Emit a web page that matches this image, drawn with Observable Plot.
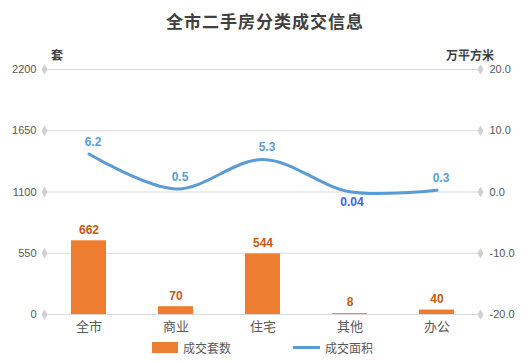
<!DOCTYPE html>
<html><head><meta charset="utf-8">
<script src="https://cdn.jsdelivr.net/npm/d3@7"></script>
<script src="https://cdn.jsdelivr.net/npm/@observablehq/plot@0.6"></script>
<style>
body{margin:0;background:#fff;}
#wrap{position:relative;width:530px;height:361px;overflow:hidden;font-family:"Noto Sans CJK SC",sans-serif;}
#title{position:absolute;top:8px;left:0;width:530px;text-align:center;font-size:17px;font-weight:bold;color:#404040;letter-spacing:1px;}
.unit{position:absolute;top:46px;font-size:12px;font-weight:bold;color:#404040;}
#legend{position:absolute;top:339px;left:0;width:530px;font-size:12px;color:#595959;}
#legend span{position:absolute;display:flex;align-items:center;}
</style></head>
<body><div id="wrap">
<div id="title">全市二手房分类成交信息</div>
<div class="unit" style="left:51px">套</div>
<div class="unit" style="left:446px">万平方米</div>
<div id="legend">
<span style="left:152px"><i style="display:inline-block;width:26px;height:11px;background:#ed7d31;margin-right:5px"></i>成交套数</span>
<span style="left:293px"><i style="display:inline-block;width:27px;height:3px;background:#5b9bd5;margin-right:5px"></i>成交面积</span>
</div>
</div>
<script>
const categories = ["全市","商业","住宅","其他","办公"];
const counts = [662, 70, 544, 8, 40];
const areas = [6.2, 0.5, 5.3, 0.04, 0.3];
const leftTicks = [0, 550, 1100, 1650, 2200];
const rightTicks = [-20, -10, 0, 10, 20];
const areaLabels = ["6.2","0.5","5.3","0.04","0.3"];

const leftMax = 2200, rMin = -20, rMax = 20;
const toLeft = v => (v - rMin) / (rMax - rMin) * leftMax;
const data = categories.map((c, i) => ({cat: c, count: counts[i], area: areas[i], label: areaLabels[i]}));

const chart = Plot.plot({
  width: 530, height: 361,
  marginTop: 69, marginBottom: 47, marginLeft: 44, marginRight: 50,
  style: {fontFamily: "'Noto Sans CJK SC', sans-serif", background: "transparent"},
  x: {domain: categories, paddingInner: 0.6, paddingOuter: 0.3},
  y: {domain: [0, leftMax]},
  marks: [
    Plot.ruleY(leftTicks, {stroke: "#d9d9d9", strokeWidth: 1}),
    Plot.dot(leftTicks, {y: d => d, frameAnchor: "left", symbol: "diamond", fill: "#d0d0d0", r: 3.2}),
    Plot.dot(rightTicks.map(toLeft), {y: d => d, frameAnchor: "right", symbol: "diamond", fill: "#d0d0d0", r: 3.2}),
    Plot.axisY({ticks: leftTicks, tickFormat: d => String(d), tickSize: 0, tickPadding: 8, label: null, fontSize: 11, fill: "#595959", fontFamily: "'Liberation Sans', Arial, sans-serif"}),
    Plot.axisY({anchor: "right", ticks: rightTicks.map(toLeft), tickFormat: d => (d / leftMax * (rMax - rMin) + rMin).toFixed(1), tickSize: 0, tickPadding: 9, label: null, fontSize: 11, fill: "#595959", fontFamily: "'Liberation Sans', Arial, sans-serif"}),
    Plot.axisX({tickSize: 0, tickPadding: 7, label: null, fontSize: 13, fill: "#595959"}),
    Plot.barY(data, {x: "cat", y: "count", fill: "#ed7d31"}),
    Plot.text(data, {x: "cat", y: "count", text: d => String(d.count), dy: -11, fill: "#c55a11", fontWeight: "bold", fontSize: 12, fontFamily: "'Liberation Sans', Arial, sans-serif"}),
    Plot.line(data, {x: "cat", y: d => toLeft(d.area), curve: "catmull-rom", stroke: "#5b9bd5", strokeWidth: 3}),
    Plot.text(data.filter(d => d.cat !== "其他"), {x: "cat", y: d => toLeft(d.area), text: "label", dy: -12, dx: 4, fill: "#5b9bd5", fontWeight: "bold", fontSize: 12, fontFamily: "'Liberation Sans', Arial, sans-serif"}),
    Plot.text(data.filter(d => d.cat === "其他"), {x: "cat", y: d => toLeft(d.area), text: "label", dy: 10, dx: 2, fill: "#3d63e6", fontWeight: "bold", fontSize: 12, fontFamily: "'Liberation Sans', Arial, sans-serif"})
  ]
});
chart.style.position = "absolute";
chart.style.left = "0px";
chart.style.top = "0px";
document.getElementById("wrap").prepend(chart);
</script>
</body></html>
